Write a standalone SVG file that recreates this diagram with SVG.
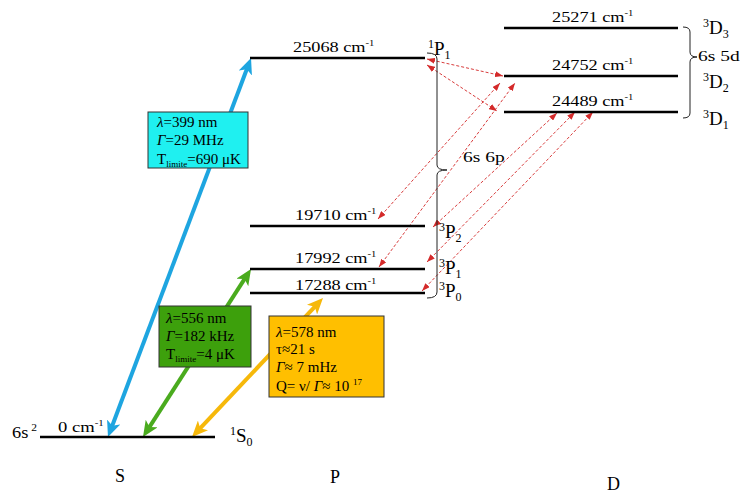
<svg xmlns="http://www.w3.org/2000/svg" width="750" height="494" viewBox="0 0 750 494">
<style>
text{font-family:"Liberation Serif","Times New Roman",serif;fill:#000}
.lv{stroke:#000;stroke-width:2.6;fill:none}
.lab{font-size:15.5px}
.sup{font-size:9px}
.term{font-size:19px}
.ts{font-size:12px}
.box{stroke:#333;stroke-width:1}
.bt{font-size:15px}
.it{font-style:italic}
.br{stroke:#222;stroke-width:1;fill:none}
.dash{stroke:#d83c3c;stroke-width:1;stroke-dasharray:3,2;fill:none;marker-start:url(#mr);marker-end:url(#mr)}
</style>
<defs>
<marker id="mb" markerUnits="userSpaceOnUse" viewBox="0 0 16 14" markerWidth="16" markerHeight="14" refX="8" refY="7" orient="auto-start-reverse"><path d="M0,0 L16,7 L0,14 L4,7 z" fill="#1ea5e0"/></marker>
<marker id="mg" markerUnits="userSpaceOnUse" viewBox="0 0 16 14" markerWidth="16" markerHeight="14" refX="8" refY="7" orient="auto-start-reverse"><path d="M0,0 L16,7 L0,14 L4,7 z" fill="#4aab1e"/></marker>
<marker id="mo" markerUnits="userSpaceOnUse" viewBox="0 0 16 14" markerWidth="16" markerHeight="14" refX="8" refY="7" orient="auto-start-reverse"><path d="M0,0 L16,7 L0,14 L4,7 z" fill="#f6b80a"/></marker>
<marker id="mr" markerUnits="userSpaceOnUse" viewBox="0 0 8 6" markerWidth="8" markerHeight="6" refX="8" refY="3" orient="auto-start-reverse"><path d="M0,0 L8,3 L0,6 z" fill="#d42a2a"/></marker>
</defs>

<g id="connectors">
<line x1="110.8" y1="429.5" x2="248.2" y2="65.5" stroke="#1ea5e0" stroke-width="4" marker-start="url(#mb)" marker-end="url(#mb)"/>
<line x1="147.3" y1="430.3" x2="246.7" y2="275.7" stroke="#4aab1e" stroke-width="4" marker-start="url(#mg)" marker-end="url(#mg)"/>
<line x1="197.5" y1="431.2" x2="317.5" y2="303.8" stroke="#f6b80a" stroke-width="4" marker-start="url(#mo)" marker-end="url(#mo)"/>
<line class="dash" x1="427" y1="59" x2="503" y2="76"/>
<line class="dash" x1="427" y1="65" x2="497" y2="111"/>
<line class="dash" x1="378" y1="219" x2="500" y2="83"/>
<line class="dash" x1="379" y1="267" x2="515" y2="83"/>
<line class="dash" x1="433" y1="227" x2="557" y2="113"/>
<line class="dash" x1="427" y1="262" x2="575" y2="112"/>
<line class="dash" x1="422" y1="291" x2="593" y2="112"/>
</g>

<g id="box-399">
<rect class="box" x="148" y="112" width="100" height="56" fill="#1ff0f0"/>
<text class="bt" x="157" y="127"><tspan class="it">λ</tspan>=399 nm</text>
<text class="bt" x="157" y="145"><tspan class="it">Γ</tspan>=29 MHz</text>
<text class="bt" x="157" y="164">T<tspan font-size="9" dy="3">limite</tspan><tspan dy="-3">=690 μK</tspan></text>
</g>
<g id="box-556">
<rect class="box" x="159" y="306" width="92" height="61" fill="#3da00c"/>
<text class="bt" x="166" y="323"><tspan class="it">λ</tspan>=556 nm</text>
<text class="bt" x="166" y="341"><tspan class="it">Γ</tspan>=182 kHz</text>
<text class="bt" x="166" y="359">T<tspan font-size="9" dy="3">limite</tspan><tspan dy="-3">=4 μK</tspan></text>
</g>
<g id="box-578">
<rect class="box" x="269" y="316" width="115" height="81" fill="#ffbf00"/>
<text class="bt" x="276" y="337"><tspan class="it">λ</tspan>=578 nm</text>
<text class="bt" x="276" y="354">τ≈21 s</text>
<text class="bt" x="276" y="372"><tspan class="it">Γ</tspan>≈ 7 mHz</text>
<text class="bt" x="276" y="391">Q= ν/ <tspan class="it">Γ</tspan>≈ 10 <tspan font-size="9" dy="-6">17</tspan></text>
</g>

<g id="level-1S0">
<line class="lv" x1="40" y1="437" x2="215" y2="437"/>
<text class="lab" transform="translate(58,432) scale(1.2,1)">0 cm<tspan class="sup" dy="-6">-1</tspan></text>
<text transform="translate(12,438) scale(1.15,1)" font-size="16">6s<tspan font-size="10" dy="-7"> 2</tspan></text>
<text x="230" y="442"><tspan class="ts" dy="-7">1</tspan><tspan class="term" dy="7">S</tspan><tspan class="ts" dy="4">0</tspan></text>
</g>

<g id="level-1P1">
<line class="lv" x1="250" y1="58" x2="425" y2="58"/>
<text class="lab" transform="translate(293,52) scale(1.18,1)">25068 cm<tspan class="sup" dy="-6">-1</tspan></text>
<text x="428" y="55"><tspan class="ts" dy="-7">1</tspan><tspan class="term" dy="7">P</tspan><tspan class="ts" dy="4">1</tspan></text>
</g>
<g id="level-3P2">
<line class="lv" x1="250" y1="226" x2="425" y2="226"/>
<text class="lab" transform="translate(295,220) scale(1.18,1)">19710 cm<tspan class="sup" dy="-6">-1</tspan></text>
<text x="439" y="238"><tspan class="ts" dy="-7">3</tspan><tspan class="term" dy="7">P</tspan><tspan class="ts" dy="4">2</tspan></text>
</g>
<g id="level-3P1">
<line class="lv" x1="250" y1="269" x2="425" y2="269"/>
<text class="lab" transform="translate(295,263) scale(1.18,1)">17992 cm<tspan class="sup" dy="-6">-1</tspan></text>
<text x="439" y="274"><tspan class="ts" dy="-7">3</tspan><tspan class="term" dy="7">P</tspan><tspan class="ts" dy="4">1</tspan></text>
</g>
<g id="level-3P0">
<line class="lv" x1="250" y1="293" x2="425" y2="293"/>
<text class="lab" transform="translate(295,290) scale(1.18,1)">17288 cm<tspan class="sup" dy="-6">-1</tspan></text>
<text x="439" y="297"><tspan class="ts" dy="-7">3</tspan><tspan class="term" dy="7">P</tspan><tspan class="ts" dy="4">0</tspan></text>
</g>
<g id="bracket-6s6p">
<path class="br" d="M427,53 Q437,53 437,59 L437,165 Q437,170 447,170 Q437,170 437,175 L437,292 Q437,298 427,298"/>
<text transform="translate(463,162) scale(1.3,1)" font-size="15">6s 6p</text>
</g>

<g id="level-3D3">
<line class="lv" x1="504" y1="28" x2="678" y2="28"/>
<text class="lab" transform="translate(552,22) scale(1.18,1)">25271 cm<tspan class="sup" dy="-6">-1</tspan></text>
<text x="703" y="34"><tspan class="ts" dy="-7">3</tspan><tspan class="term" dy="7">D</tspan><tspan class="ts" dy="4">3</tspan></text>
</g>
<g id="level-3D2">
<line class="lv" x1="504" y1="76" x2="678" y2="76"/>
<text class="lab" transform="translate(552,70) scale(1.18,1)">24752 cm<tspan class="sup" dy="-6">-1</tspan></text>
<text x="703" y="88"><tspan class="ts" dy="-7">3</tspan><tspan class="term" dy="7">D</tspan><tspan class="ts" dy="4">2</tspan></text>
</g>
<g id="level-3D1">
<line class="lv" x1="504" y1="112" x2="678" y2="112"/>
<text class="lab" transform="translate(552,106) scale(1.18,1)">24489 cm<tspan class="sup" dy="-6">-1</tspan></text>
<text x="703" y="125"><tspan class="ts" dy="-7">3</tspan><tspan class="term" dy="7">D</tspan><tspan class="ts" dy="4">1</tspan></text>
</g>
<g id="bracket-6s5d">
<path class="br" d="M683,27 Q690,27 690,32 L690,52 Q690,57 697,57 Q690,57 690,62 L690,113 Q690,118 683,118"/>
<text transform="translate(698,61) scale(1.3,1)" font-size="15">6s 5d</text>
</g>

<g id="axis-labels">
<text x="115" y="482" font-size="18">S</text>
<text x="330" y="483" font-size="18">P</text>
<text x="607" y="490" font-size="18">D</text>
</g>
</svg>
